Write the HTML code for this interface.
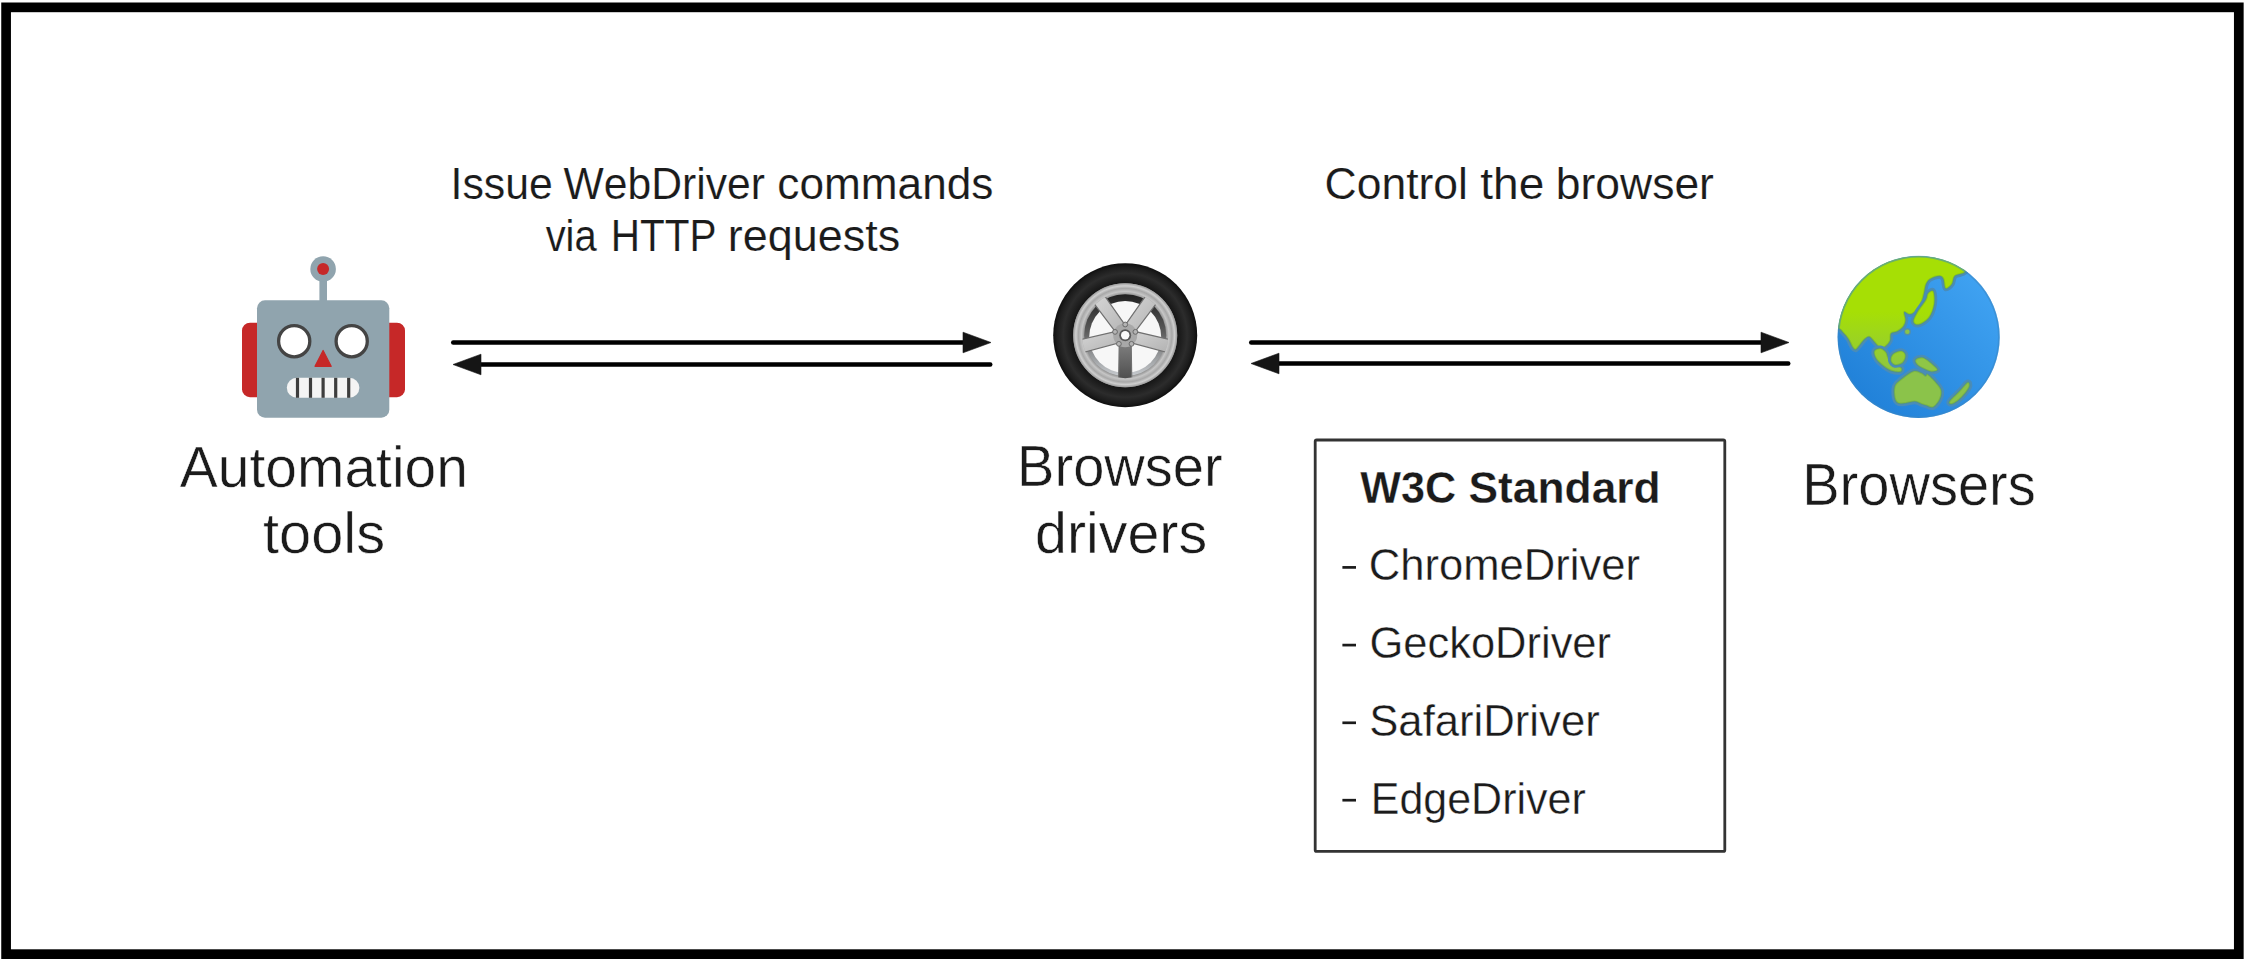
<!DOCTYPE html>
<html><head><meta charset="utf-8"><style>
html,body{margin:0;padding:0;background:#fff;overflow:hidden;width:2250px;height:966px;}
svg{display:block;}
text{font-family:"Liberation Sans",sans-serif;font-kerning:none;}
</style></head><body>
<svg width="2250" height="966" viewBox="0 0 2250 966">
<rect x="0" y="0" width="2250" height="966" fill="#fff"/>
<rect x="6.1" y="7.35" width="2232.7" height="946.8" fill="none" stroke="#000" stroke-width="9.7"/>
<line x1="453.2" y1="342.5" x2="965" y2="342.5" stroke="#000" stroke-width="4.4" stroke-linecap="round"/><polygon points="991,342.5 963,332.2 963,352.8" fill="#151515" stroke="#151515" stroke-width="0.6" stroke-linejoin="round"/><line x1="479" y1="364.5" x2="990.3" y2="364.5" stroke="#000" stroke-width="4.4" stroke-linecap="round"/><polygon points="453,364.5 481,354.2 481,374.8" fill="#151515" stroke="#151515" stroke-width="0.6" stroke-linejoin="round"/><line x1="1251.2" y1="342.5" x2="1763" y2="342.5" stroke="#000" stroke-width="4.4" stroke-linecap="round"/><polygon points="1789,342.5 1761,332.2 1761,352.8" fill="#151515" stroke="#151515" stroke-width="0.6" stroke-linejoin="round"/><line x1="1277" y1="363.5" x2="1788.3" y2="363.5" stroke="#000" stroke-width="4.4" stroke-linecap="round"/><polygon points="1251,363.5 1279,353.2 1279,373.8" fill="#151515" stroke="#151515" stroke-width="0.6" stroke-linejoin="round"/>

<g>
 <rect x="242" y="322.7" width="30" height="74.5" rx="8" fill="#C62828"/>
 <rect x="375" y="322.7" width="30" height="74.5" rx="8" fill="#C62828"/>
 <rect x="319.4" y="270" width="7.6" height="35" fill="#90A4AE"/>
 <circle cx="323.1" cy="269" r="12.8" fill="#90A4AE"/>
 <circle cx="323.1" cy="269" r="6" fill="#C62828"/>
 <rect x="257" y="300.3" width="132.3" height="117.4" rx="8" fill="#90A4AE"/>
 <circle cx="294.2" cy="341.2" r="15.6" fill="#fff" stroke="#444" stroke-width="3.3"/>
 <circle cx="351.7" cy="341.2" r="15.6" fill="#fff" stroke="#444" stroke-width="3.3"/>
 <polygon points="323.1,350.5 315,366.3 331.2,366.3" fill="#C62828" stroke="#C62828" stroke-width="1.2" stroke-linejoin="round"/>
 <rect x="286.8" y="377.8" width="72.6" height="20" rx="10" fill="#f4f4f4"/>
 <g stroke="#3d3d3d" stroke-width="3.2">
  <line x1="297.5" y1="377.8" x2="297.5" y2="397.8"/>
  <line x1="310.5" y1="377.8" x2="310.5" y2="397.8"/>
  <line x1="323.1" y1="377.8" x2="323.1" y2="397.8"/>
  <line x1="335.7" y1="377.8" x2="335.7" y2="397.8"/>
  <line x1="348.7" y1="377.8" x2="348.7" y2="397.8"/>
 </g>
</g>


<defs>
 <radialGradient id="tire" cx="1125.2" cy="335.2" r="72" gradientUnits="userSpaceOnUse">
  <stop offset="0.72" stop-color="#151515"/>
  <stop offset="0.86" stop-color="#2c2c2c"/>
  <stop offset="0.95" stop-color="#1c1c1c"/>
  <stop offset="1" stop-color="#0e0e0e"/>
 </radialGradient>
 <radialGradient id="rim" cx="1125.2" cy="335.2" r="52" gradientUnits="userSpaceOnUse">
  <stop offset="0.78" stop-color="#8e8e8e"/>
  <stop offset="0.84" stop-color="#c6c6c6"/>
  <stop offset="0.9" stop-color="#a8a8a8"/>
  <stop offset="0.95" stop-color="#cfcfcf"/>
  <stop offset="1" stop-color="#9a9a9a"/>
 </radialGradient>
 <linearGradient id="lip" x1="0" y1="0" x2="0" y2="1">
  <stop offset="0" stop-color="#202020"/>
  <stop offset="0.45" stop-color="#5a5a5a"/>
  <stop offset="1" stop-color="#c8ccd0"/>
 </linearGradient>
 <linearGradient id="spokeG" x1="0" y1="0" x2="1" y2="1">
  <stop offset="0" stop-color="#d8d8d8"/>
  <stop offset="1" stop-color="#b0b0b0"/>
 </linearGradient>
 <linearGradient id="spokeD" x1="0" y1="0" x2="0" y2="1">
  <stop offset="0" stop-color="#8a8a8a"/>
  <stop offset="1" stop-color="#4a4a4a"/>
 </linearGradient>
</defs>
<circle cx="1125.2" cy="335.2" r="72" fill="url(#tire)"/>
<circle cx="1125.2" cy="335.2" r="52" fill="url(#rim)"/>
<circle cx="1125.2" cy="335.2" r="41" fill="url(#lip)"/>
<circle cx="1125.2" cy="337.0" r="36" fill="#f7f7f7"/>
<polygon points="1119.40,335.20 1118.60,382.20 1131.80,382.20 1131.00,335.20" fill="url(#spokeD)" stroke="#707070" stroke-width="1.2"/><polygon points="1123.80,329.57 1078.00,340.17 1081.19,352.97 1126.60,340.83" fill="url(#spokeG)" stroke="#707070" stroke-width="1.2"/><polygon points="1129.89,331.79 1102.91,293.30 1092.23,301.06 1120.51,338.61" fill="url(#spokeG)" stroke="#707070" stroke-width="1.2"/><polygon points="1129.89,338.61 1158.17,301.06 1147.49,293.30 1120.51,331.79" fill="url(#spokeG)" stroke="#707070" stroke-width="1.2"/><polygon points="1123.80,340.83 1169.21,352.97 1172.40,340.17 1126.60,329.57" fill="url(#spokeG)" stroke="#707070" stroke-width="1.2"/>
<circle cx="1125.2" cy="335.2" r="47.5" fill="none" stroke="url(#rim)" stroke-width="9"/>
<circle cx="1125.2" cy="335.2" r="12" fill="#a8a8a8"/>
<circle cx="1125.20" cy="324.50" r="2.4" fill="#b4b4b4" stroke="#6a6a6a" stroke-width="1"/><circle cx="1135.38" cy="331.89" r="2.4" fill="#b4b4b4" stroke="#6a6a6a" stroke-width="1"/><circle cx="1131.49" cy="343.86" r="2.4" fill="#b4b4b4" stroke="#6a6a6a" stroke-width="1"/><circle cx="1118.91" cy="343.86" r="2.4" fill="#b4b4b4" stroke="#6a6a6a" stroke-width="1"/><circle cx="1115.02" cy="331.89" r="2.4" fill="#b4b4b4" stroke="#6a6a6a" stroke-width="1"/>
<circle cx="1125.2" cy="335.2" r="6" fill="#5a5a5a"/>
<circle cx="1125.2" cy="335.2" r="4.2" fill="#fcfcfc"/>


<defs>
 <linearGradient id="ocean" x1="1" y1="0" x2="0" y2="1">
  <stop offset="0" stop-color="#45A8F6"/>
  <stop offset="1" stop-color="#1B7BD4"/>
 </linearGradient>
 <linearGradient id="landG" x1="0" y1="350" x2="0" y2="700" gradientUnits="userSpaceOnUse">
  <stop offset="0" stop-color="#A6DF05"/>
  <stop offset="1" stop-color="#8BC34A"/>
 </linearGradient>
 <clipPath id="gclip"><circle cx="489" cy="480" r="423"/></clipPath>
</defs>
<g transform="translate(1825,245) scale(0.19150)">
 <circle cx="489" cy="480" r="423" fill="url(#ocean)"/>
 <g clip-path="url(#gclip)">
  <path d="M-20.0,425.0 C-5.3,500.8 48.8,429.7 68.0,435.0 C87.2,440.3 86.0,448.0 95.0,457.0 C104.0,466.0 113.8,476.5 122.0,489.0 C130.2,501.5 137.7,522.7 144.0,532.0 C150.3,541.3 153.7,546.8 160.0,545.0 C166.3,543.2 174.7,529.5 182.0,521.0 C189.3,512.5 195.8,501.2 204.0,494.0 C212.2,486.8 222.0,476.2 231.0,478.0 C240.0,479.8 248.2,495.0 258.0,505.0 C267.8,515.0 280.2,534.3 290.0,538.0 C299.8,541.7 308.8,533.3 317.0,527.0 C325.2,520.7 334.5,510.8 339.0,500.0 C343.5,489.2 337.7,470.2 344.0,462.0 C350.3,453.8 366.2,457.3 377.0,451.0 C387.8,444.7 401.8,433.8 409.0,424.0 C416.2,414.2 419.3,404.3 420.0,392.0 C420.7,379.7 409.7,355.2 413.0,350.0 C416.3,344.8 431.0,361.0 440.0,361.0 C449.0,361.0 457.0,359.0 467.0,350.0 C477.0,341.0 491.8,323.2 500.0,307.0 C508.2,290.8 511.5,270.2 516.0,253.0 C520.5,235.8 521.7,216.7 527.0,204.0 C532.3,191.3 536.3,184.2 548.0,177.0 C559.7,169.8 585.2,161.0 597.0,161.0 C608.8,161.0 613.5,166.2 619.0,177.0 C624.5,187.8 622.8,221.5 630.0,226.0 C637.2,230.5 654.0,214.8 662.0,204.0 C670.0,193.2 666.3,171.7 678.0,161.0 C689.7,150.3 718.3,153.5 732.0,140.0 C745.7,126.5 782.0,106.7 760.0,80.0 C738.0,53.3 730.0,-3.3 600.0,-20.0 C470.0,-36.7 83.3,-94.2 -20.0,-20.0 C-123.3,54.2 -34.7,349.2 -20.0,425.0 Z" fill="url(#landG)" stroke="#4a8cb8" stroke-width="30" paint-order="stroke" stroke-linejoin="round"/><path d="M-20.0,425.0 C-5.3,500.8 48.8,429.7 68.0,435.0 C87.2,440.3 86.0,448.0 95.0,457.0 C104.0,466.0 113.8,476.5 122.0,489.0 C130.2,501.5 137.7,522.7 144.0,532.0 C150.3,541.3 153.7,546.8 160.0,545.0 C166.3,543.2 174.7,529.5 182.0,521.0 C189.3,512.5 195.8,501.2 204.0,494.0 C212.2,486.8 222.0,476.2 231.0,478.0 C240.0,479.8 248.2,495.0 258.0,505.0 C267.8,515.0 280.2,534.3 290.0,538.0 C299.8,541.7 308.8,533.3 317.0,527.0 C325.2,520.7 334.5,510.8 339.0,500.0 C343.5,489.2 337.7,470.2 344.0,462.0 C350.3,453.8 366.2,457.3 377.0,451.0 C387.8,444.7 401.8,433.8 409.0,424.0 C416.2,414.2 419.3,404.3 420.0,392.0 C420.7,379.7 409.7,355.2 413.0,350.0 C416.3,344.8 431.0,361.0 440.0,361.0 C449.0,361.0 457.0,359.0 467.0,350.0 C477.0,341.0 491.8,323.2 500.0,307.0 C508.2,290.8 511.5,270.2 516.0,253.0 C520.5,235.8 521.7,216.7 527.0,204.0 C532.3,191.3 536.3,184.2 548.0,177.0 C559.7,169.8 585.2,161.0 597.0,161.0 C608.8,161.0 613.5,166.2 619.0,177.0 C624.5,187.8 622.8,221.5 630.0,226.0 C637.2,230.5 654.0,214.8 662.0,204.0 C670.0,193.2 666.3,171.7 678.0,161.0 C689.7,150.3 718.3,153.5 732.0,140.0 C745.7,126.5 782.0,106.7 760.0,80.0 C738.0,53.3 730.0,-3.3 600.0,-20.0 C470.0,-36.7 83.3,-94.2 -20.0,-20.0 C-123.3,54.2 -34.7,349.2 -20.0,425.0 Z" fill="none" stroke="#5f9f3a" stroke-opacity="0.35" stroke-width="9" stroke-linejoin="round"/>
  <path d="M565.0,242.0 C570.3,251.0 573.7,284.3 570.0,307.0 C566.3,329.7 556.5,360.0 543.0,378.0 C529.5,396.0 502.5,411.5 489.0,415.0 C475.5,418.5 463.0,409.8 462.0,399.0 C461.0,388.2 472.2,368.8 483.0,350.0 C493.8,331.2 517.8,302.2 527.0,286.0 C536.2,269.8 531.7,260.3 538.0,253.0 C544.3,245.7 559.7,233.0 565.0,242.0 Z" fill="url(#landG)" stroke="#4a8cb8" stroke-width="30" paint-order="stroke" stroke-linejoin="round"/><path d="M565.0,242.0 C570.3,251.0 573.7,284.3 570.0,307.0 C566.3,329.7 556.5,360.0 543.0,378.0 C529.5,396.0 502.5,411.5 489.0,415.0 C475.5,418.5 463.0,409.8 462.0,399.0 C461.0,388.2 472.2,368.8 483.0,350.0 C493.8,331.2 517.8,302.2 527.0,286.0 C536.2,269.8 531.7,260.3 538.0,253.0 C544.3,245.7 559.7,233.0 565.0,242.0 Z" fill="none" stroke="#5f9f3a" stroke-opacity="0.35" stroke-width="9" stroke-linejoin="round"/>
  <path d="M258.0,554.0 C261.7,545.0 280.0,539.0 290.0,540.0 C300.0,541.0 311.3,551.7 318.0,560.0 C324.7,568.3 323.8,580.0 330.0,590.0 C336.2,600.0 343.7,611.3 355.0,620.0 C366.3,628.7 391.8,635.0 398.0,642.0 C404.2,649.0 401.0,659.8 392.0,662.0 C383.0,664.2 358.3,660.0 344.0,655.0 C329.7,650.0 318.7,642.2 306.0,632.0 C293.3,621.8 276.0,607.0 268.0,594.0 C260.0,581.0 254.3,563.0 258.0,554.0 Z" fill="url(#landG)" stroke="#4a8cb8" stroke-width="30" paint-order="stroke" stroke-linejoin="round"/><path d="M258.0,554.0 C261.7,545.0 280.0,539.0 290.0,540.0 C300.0,541.0 311.3,551.7 318.0,560.0 C324.7,568.3 323.8,580.0 330.0,590.0 C336.2,600.0 343.7,611.3 355.0,620.0 C366.3,628.7 391.8,635.0 398.0,642.0 C404.2,649.0 401.0,659.8 392.0,662.0 C383.0,664.2 358.3,660.0 344.0,655.0 C329.7,650.0 318.7,642.2 306.0,632.0 C293.3,621.8 276.0,607.0 268.0,594.0 C260.0,581.0 254.3,563.0 258.0,554.0 Z" fill="none" stroke="#5f9f3a" stroke-opacity="0.35" stroke-width="9" stroke-linejoin="round"/>
  <path d="M355.0,570.0 C364.0,561.8 387.2,553.0 398.0,554.0 C408.8,555.0 418.7,566.2 420.0,576.0 C421.3,585.8 415.0,604.7 406.0,613.0 C397.0,621.3 376.3,627.7 366.0,626.0 C355.7,624.3 345.8,612.3 344.0,603.0 C342.2,593.7 346.0,578.2 355.0,570.0 Z" fill="url(#landG)" stroke="#4a8cb8" stroke-width="30" paint-order="stroke" stroke-linejoin="round"/><path d="M355.0,570.0 C364.0,561.8 387.2,553.0 398.0,554.0 C408.8,555.0 418.7,566.2 420.0,576.0 C421.3,585.8 415.0,604.7 406.0,613.0 C397.0,621.3 376.3,627.7 366.0,626.0 C355.7,624.3 345.8,612.3 344.0,603.0 C342.2,593.7 346.0,578.2 355.0,570.0 Z" fill="none" stroke="#5f9f3a" stroke-opacity="0.35" stroke-width="9" stroke-linejoin="round"/>
  <path d="M473.0,600.0 C477.3,593.5 496.8,584.7 512.0,589.0 C527.2,593.3 551.5,615.5 564.0,626.0 C576.5,636.5 588.5,646.3 587.0,652.0 C585.5,657.7 566.0,660.7 555.0,660.0 C544.0,659.3 532.5,653.3 521.0,648.0 C509.5,642.7 494.0,636.0 486.0,628.0 C478.0,620.0 468.7,606.5 473.0,600.0 Z" fill="#8FC646" stroke="#4a8cb8" stroke-width="30" paint-order="stroke" stroke-linejoin="round"/><path d="M473.0,600.0 C477.3,593.5 496.8,584.7 512.0,589.0 C527.2,593.3 551.5,615.5 564.0,626.0 C576.5,636.5 588.5,646.3 587.0,652.0 C585.5,657.7 566.0,660.7 555.0,660.0 C544.0,659.3 532.5,653.3 521.0,648.0 C509.5,642.7 494.0,636.0 486.0,628.0 C478.0,620.0 468.7,606.5 473.0,600.0 Z" fill="none" stroke="#5f9f3a" stroke-opacity="0.35" stroke-width="9" stroke-linejoin="round"/>
  <path d="M365.0,738.0 C370.0,722.2 379.2,717.0 395.0,704.0 C410.8,691.0 442.0,665.8 460.0,660.0 C478.0,654.2 492.2,665.0 503.0,669.0 C513.8,673.0 519.2,682.7 525.0,684.0 C530.8,685.3 527.3,669.3 538.0,677.0 C548.7,684.7 577.5,715.5 589.0,730.0 C600.5,744.5 605.5,751.2 607.0,764.0 C608.5,776.8 605.2,793.3 598.0,807.0 C590.8,820.7 575.5,841.0 564.0,846.0 C552.5,851.0 539.2,839.8 529.0,837.0 C518.8,834.2 513.0,832.5 503.0,829.0 C493.0,825.5 482.7,816.7 469.0,816.0 C455.3,815.3 435.3,823.5 421.0,825.0 C406.7,826.5 392.3,829.3 383.0,825.0 C373.7,820.7 368.0,813.5 365.0,799.0 C362.0,784.5 360.0,753.8 365.0,738.0 Z" fill="#8BC34A" stroke="#4a8cb8" stroke-width="30" paint-order="stroke" stroke-linejoin="round"/><path d="M365.0,738.0 C370.0,722.2 379.2,717.0 395.0,704.0 C410.8,691.0 442.0,665.8 460.0,660.0 C478.0,654.2 492.2,665.0 503.0,669.0 C513.8,673.0 519.2,682.7 525.0,684.0 C530.8,685.3 527.3,669.3 538.0,677.0 C548.7,684.7 577.5,715.5 589.0,730.0 C600.5,744.5 605.5,751.2 607.0,764.0 C608.5,776.8 605.2,793.3 598.0,807.0 C590.8,820.7 575.5,841.0 564.0,846.0 C552.5,851.0 539.2,839.8 529.0,837.0 C518.8,834.2 513.0,832.5 503.0,829.0 C493.0,825.5 482.7,816.7 469.0,816.0 C455.3,815.3 435.3,823.5 421.0,825.0 C406.7,826.5 392.3,829.3 383.0,825.0 C373.7,820.7 368.0,813.5 365.0,799.0 C362.0,784.5 360.0,753.8 365.0,738.0 Z" fill="none" stroke="#5f9f3a" stroke-opacity="0.35" stroke-width="9" stroke-linejoin="round"/>
  <path d="M650.0,818.0 C655.7,807.3 686.2,780.7 702.0,764.0 C717.8,747.3 736.7,721.7 745.0,718.0 C753.3,714.3 757.0,729.7 752.0,742.0 C747.0,754.3 729.0,777.7 715.0,792.0 C701.0,806.3 678.8,823.7 668.0,828.0 C657.2,832.3 644.3,828.7 650.0,818.0 Z" fill="#8BC34A" stroke="#4a8cb8" stroke-width="30" paint-order="stroke" stroke-linejoin="round"/><path d="M650.0,818.0 C655.7,807.3 686.2,780.7 702.0,764.0 C717.8,747.3 736.7,721.7 745.0,718.0 C753.3,714.3 757.0,729.7 752.0,742.0 C747.0,754.3 729.0,777.7 715.0,792.0 C701.0,806.3 678.8,823.7 668.0,828.0 C657.2,832.3 644.3,828.7 650.0,818.0 Z" fill="none" stroke="#5f9f3a" stroke-opacity="0.35" stroke-width="9" stroke-linejoin="round"/>
  <circle cx="430" cy="453" r="12" fill="#8BC34A" stroke="#4f8fae" stroke-width="14" paint-order="stroke"/>
 </g>
 <circle cx="489" cy="480" r="419" fill="none" stroke="#3a86c4" stroke-width="9" opacity="0.55"/>
</g>

<rect x="1315.2" y="440" width="409.6" height="411.4" rx="1.5" fill="none" stroke="#333" stroke-width="2.8"/>
<text x="450.55" y="199.10" font-size="44.50" font-weight="normal" textLength="102.35" lengthAdjust="spacingAndGlyphs" fill="#1b1b1b" stroke="#fff" stroke-width="0.15">Issue</text>
<text x="563.51" y="199.10" font-size="44.50" font-weight="normal" textLength="201.40" lengthAdjust="spacingAndGlyphs" fill="#1b1b1b" stroke="#fff" stroke-width="0.15">WebDriver</text>
<text x="777.32" y="199.10" font-size="44.50" font-weight="normal" textLength="216.07" lengthAdjust="spacingAndGlyphs" fill="#1b1b1b" stroke="#fff" stroke-width="0.15">commands</text>
<text x="545.66" y="250.60" font-size="44.50" font-weight="normal" textLength="51.04" lengthAdjust="spacingAndGlyphs" fill="#1b1b1b" stroke="#fff" stroke-width="0.15">via</text>
<text x="610.68" y="250.60" font-size="44.50" font-weight="normal" textLength="105.76" lengthAdjust="spacingAndGlyphs" fill="#1b1b1b" stroke="#fff" stroke-width="0.15">HTTP</text>
<text x="727.82" y="250.60" font-size="44.50" font-weight="normal" textLength="172.31" lengthAdjust="spacingAndGlyphs" fill="#1b1b1b" stroke="#fff" stroke-width="0.15">requests</text>
<text x="1324.54" y="198.80" font-size="44.50" font-weight="normal" textLength="143.44" lengthAdjust="spacingAndGlyphs" fill="#1b1b1b" stroke="#fff" stroke-width="0.15">Control</text>
<text x="1480.30" y="198.80" font-size="44.50" font-weight="normal" textLength="64.04" lengthAdjust="spacingAndGlyphs" fill="#1b1b1b" stroke="#fff" stroke-width="0.15">the</text>
<text x="1555.83" y="198.80" font-size="44.50" font-weight="normal" textLength="158.10" lengthAdjust="spacingAndGlyphs" fill="#1b1b1b" stroke="#fff" stroke-width="0.15">browser</text>
<text x="179.79" y="486.50" font-size="56.50" font-weight="normal" textLength="288.11" lengthAdjust="spacingAndGlyphs" fill="#1b1b1b" stroke="#fff" stroke-width="0.5">Automation</text>
<text x="263.03" y="553.20" font-size="56.50" font-weight="normal" textLength="122.06" lengthAdjust="spacingAndGlyphs" fill="#1b1b1b" stroke="#fff" stroke-width="0.5">tools</text>
<text x="1017.10" y="485.80" font-size="56.50" font-weight="normal" textLength="205.53" lengthAdjust="spacingAndGlyphs" fill="#1b1b1b" stroke="#fff" stroke-width="0.5">Browser</text>
<text x="1034.99" y="552.50" font-size="56.50" font-weight="normal" textLength="172.08" lengthAdjust="spacingAndGlyphs" fill="#1b1b1b" stroke="#fff" stroke-width="0.5">drivers</text>
<text x="1802.20" y="504.80" font-size="58.50" font-weight="normal" textLength="233.62" lengthAdjust="spacingAndGlyphs" fill="#1b1b1b" stroke="#fff" stroke-width="0.5">Browsers</text>
<text x="1368.79" y="579.90" font-size="43.50" font-weight="normal" textLength="271.24" lengthAdjust="spacingAndGlyphs" fill="#1b1b1b" stroke="#fff" stroke-width="0.35">ChromeDriver</text>
<text x="1369.51" y="658.00" font-size="43.50" font-weight="normal" textLength="241.51" lengthAdjust="spacingAndGlyphs" fill="#1b1b1b" stroke="#fff" stroke-width="0.35">GeckoDriver</text>
<text x="1369.22" y="735.60" font-size="43.50" font-weight="normal" textLength="230.51" lengthAdjust="spacingAndGlyphs" fill="#1b1b1b" stroke="#fff" stroke-width="0.35">SafariDriver</text>
<text x="1370.78" y="813.60" font-size="43.50" font-weight="normal" textLength="214.94" lengthAdjust="spacingAndGlyphs" fill="#1b1b1b" stroke="#fff" stroke-width="0.35">EdgeDriver</text>
<text x="1360.26" y="502.60" font-size="43.50" font-weight="bold" textLength="95.92" lengthAdjust="spacingAndGlyphs" fill="#1b1b1b" stroke="#fff" stroke-width="0.3">W3C</text>
<text x="1468.42" y="502.60" font-size="43.50" font-weight="bold" textLength="192.30" lengthAdjust="spacingAndGlyphs" fill="#1b1b1b" stroke="#fff" stroke-width="0.3">Standard</text>
<rect x="1342.4" y="566.05" width="13.6" height="2.7" fill="#1b1b1b"/>
<rect x="1342.4" y="643.75" width="13.6" height="2.7" fill="#1b1b1b"/>
<rect x="1342.4" y="721.45" width="13.6" height="2.7" fill="#1b1b1b"/>
<rect x="1342.4" y="798.85" width="13.6" height="2.7" fill="#1b1b1b"/>
</svg>
</body></html>
